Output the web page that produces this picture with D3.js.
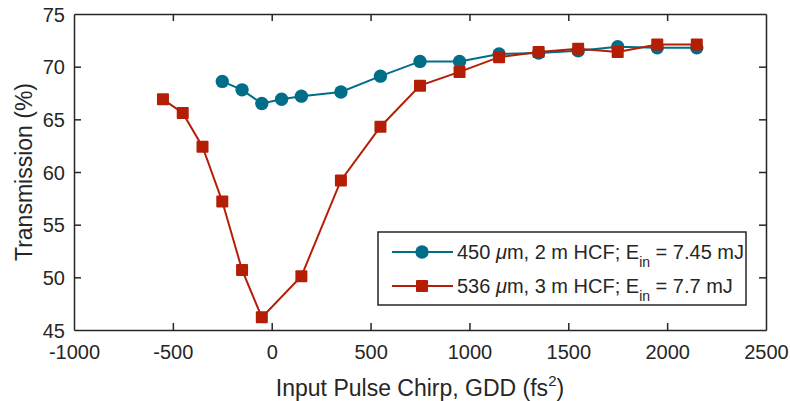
<!DOCTYPE html>
<html>
<head>
<meta charset="utf-8">
<script src="https://cdn.jsdelivr.net/npm/d3@7/dist/d3.min.js"></script>
<style>
  html, body { margin: 0; padding: 0; background: #fff; }
  svg { display: block; font-family: "Liberation Sans", Arial, Helvetica, sans-serif; }
</style>
</head>
<body>
<svg id="chart" width="790" height="401"></svg>
<script>
// GDD values (fs^2) and transmission (%) for the two fibre configurations
const gddA = [-250, -150, -50, 50, 150, 350, 550, 750, 950, 1150, 1350, 1550, 1750, 1950, 2150];
const transA = [68.6, 67.8, 66.5, 66.9, 67.2, 67.6, 69.1, 70.5, 70.5, 71.2, 71.3, 71.5, 71.9, 71.8, 71.8];

const gddB = [-550, -450, -350, -250, -150, -50, 150, 350, 550, 750, 950, 1150, 1350, 1550, 1750, 1950, 2150];
const transB = [66.9, 65.6, 62.4, 57.2, 50.7, 46.2, 50.1, 59.2, 64.3, 68.2, 69.5, 70.9, 71.4, 71.7, 71.4, 72.1, 72.1];

const xTicks = [-1000, -500, 0, 500, 1000, 1500, 2000, 2500];
const yTicks = [45, 50, 55, 60, 65, 70, 75];

const colA = "#006e88";
const colB = "#b41e05";
const axisCol = "#262626";

const svg = d3.select("#chart");
const plotL = 74, plotR = 766, plotT = 14, plotB = 330;

const x = d3.scaleLinear().domain([-1000, 2500]).range([plotL, plotR]);
const y = d3.scaleLinear().domain([45, 75]).range([plotB, plotT]);

// plain hyphen-minus for negative tick labels
const fmt = d => String(d);

// Axes box with inward ticks on all four sides
const tickLen = 7;
const gx = svg.append("g").attr("transform", `translate(0,${plotB})`)
  .call(d3.axisBottom(x).tickValues(xTicks).tickSizeInner(-tickLen).tickSizeOuter(0).tickPadding(15).tickFormat(fmt));
const gxTop = svg.append("g").attr("transform", `translate(0,${plotT})`)
  .call(d3.axisTop(x).tickValues(xTicks).tickSizeInner(-tickLen).tickSizeOuter(0).tickFormat(""));
const gy = svg.append("g").attr("transform", `translate(${plotL},0)`)
  .call(d3.axisLeft(y).tickValues(yTicks).tickSizeInner(-tickLen).tickSizeOuter(0).tickPadding(9).tickFormat(fmt));
const gyRight = svg.append("g").attr("transform", `translate(${plotR},0)`)
  .call(d3.axisRight(y).tickValues(yTicks).tickSizeInner(-tickLen).tickSizeOuter(0).tickFormat(""));

[gx, gxTop, gy, gyRight].forEach(g => {
  g.select(".domain").attr("stroke", axisCol).attr("stroke-width", 1.5);
  g.selectAll(".tick line").attr("stroke", axisCol).attr("stroke-width", 1.5);
  g.selectAll(".tick text").attr("fill", axisCol).attr("font-size", 20)
    .attr("font-family", "'Liberation Sans', Arial, sans-serif");
});
// hide end ticks that sit on the box corners
[gx, gxTop].forEach(g => g.selectAll(".tick line").filter(d => d === -1000 || d === 2500).attr("display", "none"));
[gy, gyRight].forEach(g => g.selectAll(".tick line").filter(d => d === 45 || d === 75).attr("display", "none"));
gy.selectAll(".tick text").attr("dy", "0.35em");

// Axis labels
const xl = svg.append("text")
  .attr("x", (plotL + plotR) / 2).attr("y", 396)
  .attr("text-anchor", "middle").attr("font-size", 23).attr("fill", axisCol);
xl.append("tspan").text("Input Pulse Chirp, GDD (fs");
xl.append("tspan").text("2").attr("font-size", 15).attr("dy", -10);
xl.append("tspan").text(")").attr("dy", 10);

svg.append("text")
  .attr("transform", `translate(32,${(plotT + plotB) / 2}) rotate(-90)`)
  .attr("text-anchor", "middle").attr("font-size", 23).attr("fill", axisCol)
  .text("Transmission (%)");

// Series lines and markers
const line = d3.line().x(d => x(d[0])).y(d => y(d[1]));
const ptsA = gddA.map((g, i) => [g, transA[i]]);
const ptsB = gddB.map((g, i) => [g, transB[i]]);

svg.append("path").datum(ptsA).attr("d", line)
  .attr("fill", "none").attr("stroke", colA).attr("stroke-width", 2);
svg.append("g").selectAll("circle").data(ptsA).join("circle")
  .attr("cx", d => x(d[0])).attr("cy", d => y(d[1])).attr("r", 6.7).attr("fill", colA);

const sq = 12;
svg.append("path").datum(ptsB).attr("d", line)
  .attr("fill", "none").attr("stroke", colB).attr("stroke-width", 2);
svg.append("g").selectAll("rect").data(ptsB).join("rect")
  .attr("x", d => x(d[0]) - sq / 2).attr("y", d => y(d[1]) - sq / 2)
  .attr("width", sq).attr("height", sq).attr("rx", 1).attr("fill", colB);

// Legend
const lg = svg.append("g");
lg.append("rect").attr("x", 378).attr("y", 232).attr("width", 368).attr("height", 73)
  .attr("fill", "#fff").attr("stroke", axisCol).attr("stroke-width", 1.5);

const entries = [
  { col: colA, shape: "circle", size: "450", fibre: "2 m HCF", energy: "7.45 mJ", yy: 252 },
  { col: colB, shape: "square", size: "536", fibre: "3 m HCF", energy: "7.7 mJ", yy: 286 }
];
entries.forEach(e => {
  lg.append("line").attr("x1", 392).attr("x2", 453).attr("y1", e.yy).attr("y2", e.yy)
    .attr("stroke", e.col).attr("stroke-width", 2);
  if (e.shape === "circle") {
    lg.append("circle").attr("cx", 422).attr("cy", e.yy).attr("r", 6.7).attr("fill", e.col);
  } else {
    lg.append("rect").attr("x", 422 - sq / 2).attr("y", e.yy - sq / 2).attr("width", sq).attr("height", sq)
      .attr("rx", 1).attr("fill", e.col);
  }
  const t = lg.append("text").attr("x", 457).attr("y", e.yy + 7).attr("font-size", 20).attr("fill", axisCol);
  t.append("tspan").text(e.size + " ");
  t.append("tspan").text("\u03bc").attr("font-style", "italic");
  t.append("tspan").text("m, " + e.fibre + "; E");
  t.append("tspan").text("in").attr("font-size", 14).attr("dy", 8);
  t.append("tspan").text(" = " + e.energy).attr("dy", -8);
});
</script>
</body>
</html>
